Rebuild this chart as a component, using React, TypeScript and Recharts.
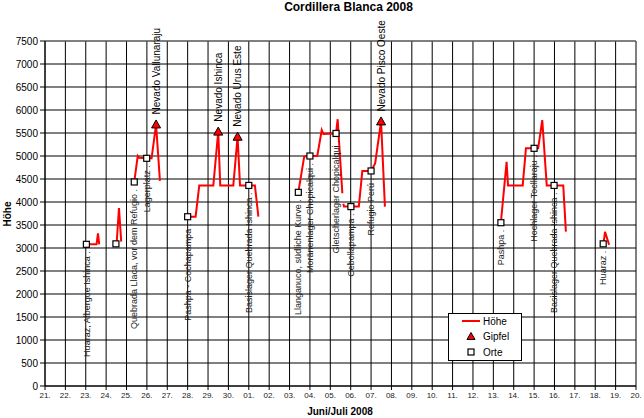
import { ComposedChart, Line, Scatter, XAxis, YAxis, CartesianGrid, ReferenceLine } from 'recharts'

// x position = days since 21 June 2008 (0 = 21., 29 = 20. July)
const tickLabels = [
  '21.', '22.', '23.', '24.', '25.', '26.', '27.', '28.', '29.', '30.',
  '01.', '02.', '03.', '04.', '05.', '06.', '07.', '08.', '09.', '10.',
  '11.', '12.', '13.', '14.', '15.', '16.', '17.', '18.', '19.', '20.',
]
const yTicks = [0, 500, 1000, 1500, 2000, 2500, 3000, 3500, 4000, 4500, 5000, 5500, 6000, 6500, 7000, 7500]

// altitude track, null = break in the line
const lineDays = [
  2.03, 2.53, 2.6, 2.66, 3.0,
  3.48, 3.52, 3.63, 3.74, 4.0,
  4.38, 4.55, 4.62, 4.99, 5.23, 5.45, 5.64, 6.3,
  7.0, 7.39, 7.57, 8.26, 8.5, 8.6, 9.24, 9.45, 9.57, 10.0, 10.3, 10.47, 11.5,
  12.43, 12.72, 13.0, 13.36, 13.58, 13.66, 14.28, 14.36, 14.59, 14.62,
  14.64, 14.67, 15.01, 15.4, 15.57, 16.0, 16.2, 16.49, 16.68, 20.0,
  22.37, 22.65, 22.72, 23.44, 23.6, 24.0, 24.2, 24.4, 24.62, 24.98, 25.43, 25.56, 26.5,
  27.41, 27.48, 27.68,
]
const lineHeights = [
  3080, 3080, 3320, 3080, null,
  3090, 3130, 3870, 3140, null,
  4435, 5000, 4960, 4950, 4950, 5686, 4460, null,
  3680, 3680, 4360, 4360, 5530, 4360, 4360, 5420, 4360, 4360, 4360, 3680, null,
  4210, 4990, 5000, 5000, 5565, 5480, 5490, 5800, 4190, null,
  3960, 3900, 3900, 3900, 4675, 4675, 4840, 5752, 3900, null,
  3550, 4875, 4360, 4360, 5167, 5167, 5167, 5780, 4360, 4360, 4360, 3355, null,
  3110, 3350, 3070,
]

const peakDays = [5.45, 8.5, 9.45, 16.49]
const peakHeights = [5686, 5530, 5420, 5752]
const peakNames = ['Nevado Vallunaraju', 'Nevado Ishinca', 'Nevado Urus Este', 'Nevado Pisco Oeste']

const placeDays = [2.03, 3.48, 4.38, 4.99, 7.0, 10.0, 12.43, 13.0, 14.28, 15.01, 16.0, 22.37, 24.0, 24.98, 27.39]
const placeHeights = [3080, 3090, 4435, 4950, 3680, 4360, 4210, 5000, 5490, 3900, 4675, 3550, 5167, 4360, 3090]
const placeNames = [
  'Huaraz, Albergue Ishinca .',
  '',
  'Quebrada Llaca, vor dem Refugio .',
  'Lagerplatz .',
  'Pashpa - Cochapampa .',
  'Basislager Quebrada Ishinca .',
  'Llanganuco, südliche Kurve .',
  'Moränenlager Chopicalqui .',
  'Gletscherlager Chopicalqui .',
  'Cebollapampa .',
  'Refugio Perú .',
  'Pashpa .',
  'Hochlager Tocllaraju .',
  'Basislager Quebrada Ishinca .',
  'Huaraz .',
]

const lineData = lineDays.map((day, i) => ({ day, h: lineHeights[i] }))
const peakData = peakDays.map((day, i) => ({ day, h: peakHeights[i], name: peakNames[i] }))
const placeData = placeDays.map((day, i) => ({ day, h: placeHeights[i], name: placeNames[i] }))

const FONT = '"Liberation Sans", Arial, sans-serif'

// red triangle with the summit name written upwards above it
function PeakShape(props: any) {
  const { cx, cy, payload } = props
  if (cx == null || cy == null) return null
  return (
    <g>
      <path
        d={`M${cx},${cy - 4.5} L${cx + 4.5},${cy + 3.5} L${cx - 4.5},${cy + 3.5} Z`}
        fill="#ff0000"
        stroke="#000"
        strokeWidth={1}
      />
      <text
        x={cx}
        y={cy - 10}
        dy="0.35em"
        transform={`rotate(-90, ${cx}, ${cy - 10})`}
        textAnchor="start"
        fontSize={10}
        fill="#000"
      >
        {payload.name}
      </text>
    </g>
  )
}

// white square with the place name written upwards below it
function PlaceShape(props: any) {
  const { cx, cy, payload } = props
  if (cx == null || cy == null) return null
  return (
    <g>
      <rect x={cx - 3} y={cy - 3} width={6} height={6} fill="#fff" stroke="#000" strokeWidth={1.2} />
      {payload.name && (
        <text
          x={cx}
          y={cy + 7}
          dy="0.35em"
          transform={`rotate(-90, ${cx}, ${cy + 7})`}
          textAnchor="end"
          fontSize={9}
          fill="#222"
        >
          {payload.name}
        </text>
      )}
    </g>
  )
}

export default function App() {
  return (
    <div
      style={{
        position: 'absolute',
        left: 0,
        top: 0,
        width: 644,
        height: 418,
        background: '#fff',
        fontFamily: FONT,
      }}
    >
      <ComposedChart width={644} height={418} margin={{ top: 41, right: 8, bottom: 12, left: 0 }}>
        <CartesianGrid stroke="#000" strokeWidth={1} />
        <XAxis
          type="number"
          dataKey="day"
          domain={[0, 29]}
          ticks={tickLabels.map((_, i) => i)}
          interval={0}
          tickFormatter={(v) => tickLabels[v] ?? ''}
          height={20}
          tickSize={4}
          tick={{ fontSize: 8, fill: '#222' }}
          tickLine={{ stroke: '#000' }}
          axisLine={{ stroke: '#000' }}
        />
        <YAxis
          type="number"
          dataKey="h"
          domain={[0, 7500]}
          ticks={yTicks}
          interval={0}
          width={45}
          tickSize={5}
          tick={{ fontSize: 10, fill: '#000' }}
          tickLine={{ stroke: '#000' }}
          axisLine={{ stroke: '#000' }}
        />
        <ReferenceLine y={7500} stroke="#808080" strokeWidth={1} />
        <Line
          data={lineData}
          dataKey="h"
          type="linear"
          stroke="#ff0000"
          strokeWidth={2}
          dot={false}
          activeDot={false}
          connectNulls={false}
          isAnimationActive={false}
        />
        <Scatter data={placeData} dataKey="h" shape={PlaceShape} isAnimationActive={false} />
        <Scatter data={peakData} dataKey="h" shape={PeakShape} isAnimationActive={false} />
      </ComposedChart>

      {/* title */}
      <div
        style={{
          position: 'absolute',
          left: 0,
          top: 0,
          width: 697,
          textAlign: 'center',
          fontSize: 12,
          fontWeight: 'bold',
          lineHeight: '14px',
        }}
      >
        Cordillera Blanca 2008
      </div>

      {/* x axis title */}
      <div
        style={{
          position: 'absolute',
          left: 0,
          top: 405,
          width: 680,
          textAlign: 'center',
          fontSize: 10,
          fontWeight: 'bold',
          lineHeight: '14px',
        }}
      >
        Juni/Juli 2008
      </div>

      {/* y axis title */}
      <div
        style={{
          position: 'absolute',
          left: -22,
          top: 207,
          width: 60,
          height: 14,
          textAlign: 'center',
          fontSize: 10,
          fontWeight: 'bold',
          lineHeight: '14px',
          transform: 'rotate(-90deg)',
        }}
      >
        Höhe
      </div>

      {/* legend */}
      <svg
        width={74}
        height={48}
        style={{ position: 'absolute', left: 448, top: 313, background: '#fff' }}
      >
        <rect x={0.5} y={0.5} width={73} height={47} fill="#fff" stroke="#000" strokeWidth={1} />
        <line x1={14} y1={8} x2={32} y2={8} stroke="#ff0000" strokeWidth={2} />
        <text x={35} y={11.5} fontSize={10} fill="#000">Höhe</text>
        <path d="M23,19.5 L27,26.5 L19,26.5 Z" fill="#ff0000" stroke="#000" strokeWidth={1} />
        <text x={35} y={27} fontSize={10} fill="#000">Gipfel</text>
        <rect x={20} y={36} width={6} height={6} fill="#fff" stroke="#000" strokeWidth={1.2} />
        <text x={35} y={42.5} fontSize={10} fill="#000">Orte</text>
      </svg>
    </div>
  )
}
